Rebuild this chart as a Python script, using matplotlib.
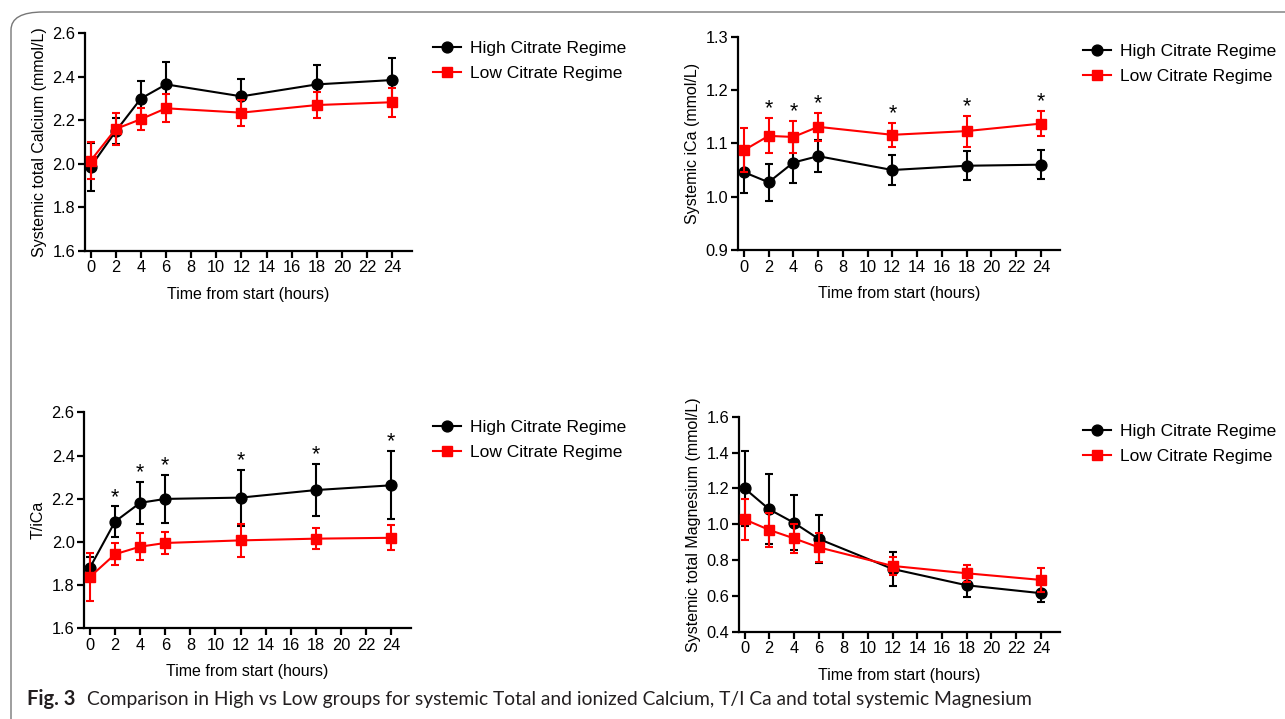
import matplotlib
matplotlib.use("Agg")
import matplotlib.pyplot as plt
from matplotlib.patches import FancyBboxPatch

plt.rcParams['font.family'] = ['Liberation Sans', 'DejaVu Sans']

hours = [0, 2, 4, 6, 12, 18, 24]
xticks = list(range(0, 25, 2))

# systemic total calcium
tca_high = [1.986, 2.15, 2.30, 2.365, 2.31, 2.365, 2.385]
tca_high_sd = [0.11, 0.06, 0.08, 0.105, 0.08, 0.09, 0.10]
tca_low = [2.014, 2.16, 2.205, 2.255, 2.235, 2.27, 2.283]
tca_low_sd = [0.086, 0.075, 0.05, 0.065, 0.06, 0.06, 0.067]

# systemic ionized calcium
ica_high = [1.046, 1.027, 1.064, 1.076, 1.050, 1.058, 1.060]
ica_high_sd = [0.04, 0.035, 0.038, 0.03, 0.029, 0.027, 0.027]
ica_low = [1.087, 1.114, 1.112, 1.131, 1.116, 1.123, 1.137]
ica_low_sd = [0.041, 0.033, 0.03, 0.026, 0.022, 0.029, 0.024]

# T/iCa
tica_high = [1.881, 2.094, 2.181, 2.199, 2.205, 2.240, 2.262]
tica_high_sd = [0.05, 0.07, 0.098, 0.11, 0.13, 0.12, 0.158]
tica_low = [1.838, 1.943, 1.978, 1.995, 2.007, 2.015, 2.019]
tica_low_sd = [0.11, 0.05, 0.062, 0.052, 0.075, 0.05, 0.057]

# systemic total magnesium
mg_high = [1.20, 1.083, 1.008, 0.918, 0.750, 0.659, 0.615]
mg_high_sd = [0.21, 0.195, 0.153, 0.133, 0.096, 0.067, 0.05]
mg_low = [1.027, 0.968, 0.921, 0.871, 0.767, 0.726, 0.689]
mg_low_sd = [0.114, 0.097, 0.082, 0.081, 0.05, 0.047, 0.065]

W, H = 1285, 719
fig = plt.figure(figsize=(W / 100, H / 100), dpi=100)


def px_axes(l, t, r, b):
    return fig.add_axes([l / W, 1 - b / H, (r - l) / W, (b - t) / H])


def panel(ax, hi, hi_sd, lo, lo_sd, ylim, yticks, ylabel, star=None):
    ax.errorbar(hours, hi, yerr=hi_sd, color='black', marker='o', ms=7.8,
                lw=1.5, elinewidth=1.5, capsize=3, capthick=1.5, zorder=3,
                label='High Citrate Regime')
    ax.errorbar(hours, lo, yerr=lo_sd, color='#ff0000', marker='s', ms=7.5,
                lw=1.5, elinewidth=1.5, capsize=3, capthick=1.5, zorder=4,
                label='Low Citrate Regime')
    if star is not None:
        vals, sds = star
        for h, v, s in zip(hours[1:], vals[1:], sds[1:]):
            ax.annotate('*', (h, v + s), xytext=(0, -1), textcoords='offset points',
                        ha='center', va='bottom', fontsize=15.5, zorder=5)
    ax.set_xlim(-0.45, 25.55)
    ax.set_ylim(*ylim)
    ax.set_xticks(xticks)
    ax.set_yticks(yticks)
    ax.set_yticklabels([f'{v:.1f}' for v in yticks])
    for s in ['top', 'right']:
        ax.spines[s].set_visible(False)
    for s in ['left', 'bottom']:
        ax.spines[s].set_linewidth(1.6)
    ax.tick_params(width=1.6, length=5, labelsize=11.8, pad=2)
    ax.set_xlabel('Time from start (hours)', fontsize=11.5, labelpad=8)
    ax.set_ylabel(ylabel, fontsize=11.5, labelpad=4)


ax1 = px_axes(85, 33.3, 411.7, 250.7)
panel(ax1, tca_high, tca_high_sd, tca_low, tca_low_sd, (1.6, 2.6),
      [1.6, 1.8, 2.0, 2.2, 2.4, 2.6], 'Systemic total Calcium (mmol/L)')

ax2 = px_axes(738.3, 36.7, 1060, 250)
panel(ax2, ica_high, ica_high_sd, ica_low, ica_low_sd, (0.9, 1.3),
      [0.9, 1.0, 1.1, 1.2, 1.3], 'Systemic iCa (mmol/L)',
      star=(ica_low, ica_low_sd))

ax3 = px_axes(84.3, 412.3, 410.7, 628.3)
panel(ax3, tica_high, tica_high_sd, tica_low, tica_low_sd, (1.6, 2.6),
      [1.6, 1.8, 2.0, 2.2, 2.4, 2.6], 'T/iCa',
      star=(tica_high, tica_high_sd))

ax4 = px_axes(739, 416.7, 1060, 631.7)
panel(ax4, mg_high, mg_high_sd, mg_low, mg_low_sd, (0.4, 1.6),
      [0.4, 0.6, 0.8, 1.0, 1.2, 1.4, 1.6], 'Systemic total Magnesium (mmol/L)')

# legends to the right of each panel
for ax, (lx, ly) in zip([ax1, ax2, ax3, ax4],
                        [(433, 41), (1083, 44), (433, 420), (1083, 424)]):
    h, l = ax.get_legend_handles_labels()
    hs = [hh[0] for hh in h]
    fig.legend(hs, l, loc='upper left', bbox_to_anchor=(lx / W, 1 - ly / H),
               frameon=False, fontsize=12.5, borderpad=0, borderaxespad=0,
               handlelength=1.6, handletextpad=0.55, labelspacing=0.57)

# rounded figure frame
frame = FancyBboxPatch((11 / W, -0.05), 1.1, 1 - 12 / H + 0.05,
                       boxstyle='round,pad=0,rounding_size=0.025',
                       transform=fig.transFigure, fill=False,
                       edgecolor='#777777', lw=1, clip_on=False)
fig.patches.append(frame)

fig.text(27 / W, 1 - 699 / H, 'Fig. 3', fontsize=14.5, fontweight='bold',
         va='center', ha='left', color='#231f20', family=['Lato', 'DejaVu Sans'])
fig.text(87 / W, 1 - 699 / H,
         'Comparison in High vs Low groups for systemic Total and ionized Calcium, '
         'T/I Ca and total systemic Magnesium',
         fontsize=13.9, va='center', ha='left', color='#231f20',
         family=['Lato', 'DejaVu Sans'])

fig.savefig('out.png', dpi=100)
